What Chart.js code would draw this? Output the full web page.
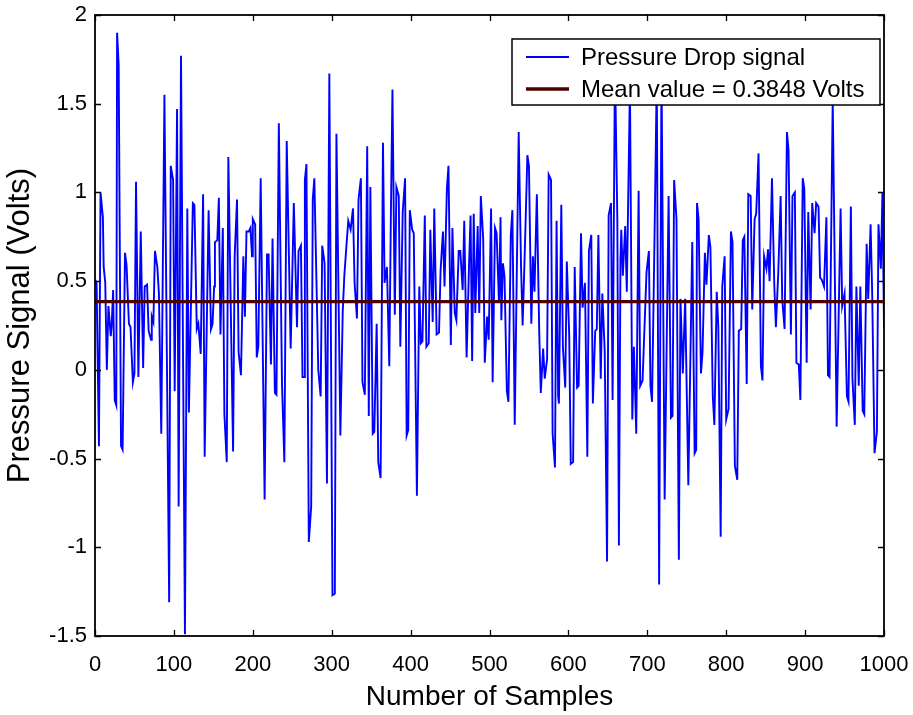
<!DOCTYPE html>
<html>
<head>
<meta charset="utf-8">
<script src="https://cdn.jsdelivr.net/npm/chart.js@4/dist/chart.umd.min.js"></script>
<style>
  html, body { margin: 0; padding: 0; background: #ffffff; }
  #wrap { width: 913px; height: 715px; }
</style>
</head>
<body>
<div id="wrap"><canvas id="c" width="913" height="715"></canvas></div>
<script>
// Sample index of each recorded point
const sampleNo = [
  0, 2, 5, 7, 10, 11, 13, 15, 17, 20, 21, 23, 25, 27, 28, 30, 33, 35, 38, 40,
  43, 45, 48, 50, 52, 55, 58, 61, 63, 66, 68, 71, 72, 74, 76, 79, 81, 84, 88, 94,
  96, 99, 101, 104, 106, 109, 114, 117, 119, 124, 126, 129, 131, 134, 137, 139, 144, 147, 149, 151,
  152, 155, 157, 159, 162, 164, 167, 169, 175, 177, 180, 182, 185, 188, 190, 192, 195, 197, 199, 200,
  203, 205, 207, 210, 215, 218, 220, 223, 225, 228, 230, 233, 237, 240, 243, 248, 252, 256, 258, 261,
  263, 265, 266, 268, 271, 274, 276, 278, 283, 286, 288, 291, 294, 297, 301, 304, 306, 311, 314, 316,
  319, 321, 324, 327, 329, 332, 334, 337, 339, 342, 345, 347, 349, 352, 354, 357, 359, 362, 365, 367,
  370, 373, 375, 377, 380, 382, 385, 387, 390, 393, 395, 397, 399, 402, 404, 408, 411, 413, 415, 418,
  420, 423, 425, 428, 430, 433, 436, 438, 441, 443, 446, 448, 451, 453, 456, 458, 461, 463, 466, 468,
  471, 474, 476, 478, 480, 482, 485, 487, 489, 492, 494, 497, 499, 502, 504, 507, 509, 512, 514, 515,
  517, 519, 522, 524, 527, 529, 532, 537, 540, 542, 545, 548, 550, 553, 555, 557, 560, 563, 565, 568,
  570, 573, 575, 578, 580, 583, 585, 587, 588, 591, 593, 596, 598, 601, 603, 606, 608, 611, 613, 616,
  618, 621, 624, 626, 629, 631, 634, 636, 638, 641, 643, 646, 649, 651, 654, 656, 659, 662, 664, 666,
  667, 669, 672, 674, 678, 681, 683, 686, 689, 691, 694, 699, 702, 704, 706, 709, 712, 715, 718, 722,
  727, 730, 732, 734, 737, 740, 742, 745, 748, 752, 757, 760, 762, 763, 765, 768, 770, 773, 775, 778,
  780, 783, 785, 788, 790, 793, 795, 798, 800, 803, 806, 808, 811, 814, 816, 819, 821, 823, 826, 828,
  831, 833, 836, 838, 841, 844, 846, 848, 851, 853, 855, 858, 861, 863, 866, 869, 871, 874, 877, 879,
  882, 884, 887, 889, 892, 894, 897, 899, 902, 904, 907, 909, 912, 914, 917, 919, 921, 924, 927, 929,
  931, 935, 940, 945, 947, 950, 953, 955, 958, 960, 963, 965, 968, 970, 973, 975, 978, 980, 983, 985,
  988, 991, 993, 996, 998, 1000
];

// Pressure drop signal (Volts) at each sample
const pressureV = [
  0.51, 0.49, -0.43, 1.00, 0.86, 0.58, 0.49, 0.00, 0.36, 0.19, 0.24, 0.45, -0.17, -0.20, 1.90, 1.72, -0.43, -0.45, 0.66, 0.59,
  0.26, 0.24, -0.07, -0.02, 1.06, -0.04, 0.78, 0.01, 0.47, 0.48, 0.22, 0.17, 0.30, 0.27, 0.67, 0.58, 0.43, -0.36, 1.55, -1.31,
  1.15, 1.07, -0.12, 1.47, -0.77, 1.77, -1.49, 0.91, -0.24, 0.94, 0.93, 0.23, 0.26, 0.09, 0.99, -0.49, 0.90, 0.23, 0.26, 0.47,
  0.72, 0.73, 0.97, 0.20, 0.80, -0.25, -0.52, 1.20, -0.46, 0.64, 0.96, 0.10, -0.03, 0.64, 0.30, 0.78, 0.78, 0.80, 0.64, 0.85,
  0.82, 0.07, 0.13, 1.08, -0.73, 0.65, 0.65, 0.03, 0.74, -0.13, -0.14, 1.39, -0.08, -0.52, 1.29, 0.12, 0.94, 0.24, 0.67, 0.70,
  -0.04, -0.04, 1.07, 1.16, -0.97, -0.77, 0.96, 1.08, 0.00, -0.15, 0.70, 0.60, -0.64, 1.67, -1.27, -1.26, 1.33, -0.37, 0.33, 0.53,
  0.72, 0.84, 0.79, 0.91, 0.49, 0.29, 0.96, 1.08, -0.07, -0.14, 1.26, -0.26, 1.03, -0.36, -0.35, 0.26, -0.52, -0.61, 1.28, 0.49,
  0.58, 0.02, 0.87, 1.58, 0.31, 1.03, 0.98, 0.13, 0.89, 1.08, -0.37, -0.34, 0.90, 0.79, 0.77, -0.71, 0.47, 0.15, 0.16, 0.87,
  0.13, 0.15, 0.79, 0.27, 0.91, 0.20, 0.21, 0.56, 0.78, 0.47, 1.02, 1.15, 0.14, 0.80, 0.32, 0.28, 0.67, 0.67, 0.45, 0.84,
  0.07, 0.58, 0.87, 0.05, 0.88, 0.32, 0.81, 0.32, 0.98, 0.74, 0.04, 0.30, 0.17, 0.91, -0.07, 0.80, 0.77, 0.38, 0.86, 0.28,
  0.60, 0.53, -0.12, -0.18, 0.76, 0.90, -0.31, 1.34, 0.58, 0.25, 0.71, 1.21, 1.15, 0.26, 0.64, 0.44, 0.99, 0.22, -0.13, 0.12,
  -0.05, 0.06, 1.10, 1.07, -0.36, -0.55, 0.84, -0.15, -0.19, 0.93, 0.13, -0.10, 0.61, 0.20, -0.53, -0.52, 0.58, -0.10, -0.09, 0.77,
  0.35, 0.49, -0.49, 0.67, 0.76, -0.19, 0.22, 0.23, 0.76, -0.05, 0.43, 0.11, -1.08, 0.87, 0.94, -0.17, 1.72, 0.86, -0.99, 0.62,
  0.79, 0.53, 0.81, 0.44, 1.60, -0.28, 0.13, -0.36, 1.01, -0.09, -0.06, 0.55, 0.67, -0.09, -0.18, 0.70, 1.65, -1.21, 1.70, -0.73,
  0.98, -0.27, -0.26, 1.07, 0.85, -1.07, 0.40, -0.02, 0.40, -0.65, 0.72, -0.47, -0.45, 0.94, 0.85, -0.02, 0.10, 0.66, 0.48, 0.76,
  0.69, -0.15, -0.31, 0.44, 0.24, -0.94, 0.47, 0.64, -0.28, -0.22, 0.78, 0.72, -0.54, -0.62, 0.22, 0.23, 0.73, 0.75, -0.08, 0.99,
  0.98, 0.34, 0.85, 0.88, 1.22, 0.02, -0.06, 0.64, 0.57, 0.68, 0.50, 1.08, 0.47, 0.24, 0.55, 0.98, 0.40, 0.23, 1.34, 1.24,
  0.20, 0.98, 1.00, 0.04, 0.03, -0.17, 1.08, 1.02, 0.04, 0.89, 0.34, 0.94, 0.77, 0.94, 0.92, 0.52, 0.51, 0.47, 0.86, -0.03,
  -0.04, 1.52, -0.32, 0.91, 0.36, 0.43, -0.15, -0.18, 0.92, -0.05, -0.31, 0.47, -0.09, 0.47, -0.23, -0.25, 0.71, 0.40, 0.82, 0.44,
  -0.47, -0.35, 0.82, 0.57, 1.00, 0.24
];

const meanValue = 0.3848;
const xTickValues = [0, 100, 200, 300, 400, 500, 600, 700, 800, 900, 1000];
const yTickValues = [-1.5, -1, -0.5, 0, 0.5, 1, 1.5, 2];
const legendLabels = ['Pressure Drop signal', 'Mean value = 0.3848 Volts'];

const FONT = 'Arial, "Liberation Sans", sans-serif';
const signalColor = '#0000ff';
const meanColor = '#4d0000';

const signalPoints = sampleNo.map((s, i) => ({ x: s, y: pressureV[i] }));
const meanPoints = [{ x: xTickValues[0], y: meanValue }, { x: xTickValues[xTickValues.length - 1], y: meanValue }];

// Keep the plot frame fixed: labels may overhang the padding
function fixScale(size, key) {
  return function (scale) {
    scale[key] = size;
    scale.paddingLeft = 0; scale.paddingRight = 0;
    scale.paddingTop = 0; scale.paddingBottom = 0;
  };
}

// Axes box with inward tick marks on all four sides
const boxPlugin = {
  id: 'axesBox',
  afterDatasetsDraw(chart) {
    const { ctx, chartArea: a, scales } = chart;
    const tl = 6;
    ctx.save();
    ctx.strokeStyle = '#000';
    ctx.lineWidth = 1.3;
    ctx.beginPath();
    xTickValues.forEach(v => {
      const px = Math.round(scales.x.getPixelForValue(v)) + 0.5;
      ctx.moveTo(px, a.bottom); ctx.lineTo(px, a.bottom - tl);
      ctx.moveTo(px, a.top); ctx.lineTo(px, a.top + tl);
    });
    yTickValues.forEach(v => {
      const py = Math.round(scales.y.getPixelForValue(v)) + 0.5;
      ctx.moveTo(a.left, py); ctx.lineTo(a.left + tl, py);
      ctx.moveTo(a.right, py); ctx.lineTo(a.right - tl, py);
    });
    ctx.stroke();
    ctx.lineWidth = 1.8;
    ctx.strokeRect(a.left, a.top, a.right - a.left, a.bottom - a.top);
    ctx.restore();
  }
};

// Legend box drawn inside the plot, upper right
const legendPlugin = {
  id: 'boxLegend',
  afterDraw(chart) {
    const { ctx, chartArea: a } = chart;
    const w = 368, h = 66;
    const x0 = a.right - 4 - w, y0 = a.top + 24;
    ctx.save();
    ctx.fillStyle = '#fff';
    ctx.fillRect(x0, y0, w, h);
    ctx.strokeStyle = '#000';
    ctx.lineWidth = 1.5;
    ctx.strokeRect(x0, y0, w, h);
    const rows = [
      { label: legendLabels[0], color: signalColor, width: 1.9, y: y0 + 18 },
      { label: legendLabels[1], color: meanColor, width: 3.4, y: y0 + 50 }
    ];
    ctx.font = '24px ' + FONT;
    ctx.textBaseline = 'middle';
    rows.forEach(r => {
      ctx.strokeStyle = r.color;
      ctx.lineWidth = r.width;
      ctx.beginPath();
      ctx.moveTo(x0 + 14, r.y);
      ctx.lineTo(x0 + 57, r.y);
      ctx.stroke();
      ctx.fillStyle = '#000';
      ctx.fillText(r.label, x0 + 69, r.y + 1);
    });
    ctx.restore();
  }
};

new Chart(document.getElementById('c'), {
  type: 'line',
  data: {
    datasets: [
      {
        label: legendLabels[0],
        data: signalPoints,
        borderColor: signalColor,
        borderWidth: 1.9,
        pointRadius: 0,
        tension: 0,
        order: 1
      },
      {
        label: legendLabels[1],
        data: meanPoints,
        borderColor: meanColor,
        borderWidth: 3.4,
        pointRadius: 0,
        order: 0
      }
    ]
  },
  options: {
    responsive: false,
    animation: false,
    devicePixelRatio: 1,
    layout: { padding: { top: 15, right: 29, left: 0, bottom: 0 } },
    plugins: { legend: { display: false }, tooltip: { enabled: false } },
    scales: {
      x: {
        type: 'linear',
        min: 0, max: 1000,
        afterBuildTicks(scale) { scale.ticks = xTickValues.map(v => ({ value: v })); },
        afterFit: fixScale(79, 'height'),
        grid: { display: false, drawTicks: false },
        border: { display: false },
        ticks: { color: '#000', font: { family: FONT, size: 22 }, padding: 16, maxRotation: 0, autoSkip: false,
                 callback: v => String(v) },
        title: { display: true, text: 'Number of Samples', color: '#000', font: { family: FONT, size: 28 }, padding: { top: 0, bottom: 1 } }
      },
      y: {
        type: 'linear',
        min: -1.5, max: 2,
        afterBuildTicks(scale) { scale.ticks = yTickValues.map(v => ({ value: v })); },
        afterFit: fixScale(95, 'width'),
        grid: { display: false, drawTicks: false },
        border: { display: false },
        ticks: { color: '#000', font: { family: FONT, size: 22 }, padding: 8, autoSkip: false,
                 callback: v => String(v) },
        title: { display: true, text: 'Pressure Signal (Volts)', color: '#000', font: { family: FONT, size: 31 }, padding: { top: 2, bottom: 4 } }
      }
    }
  },
  plugins: [boxPlugin, legendPlugin]
});
</script>
</body>
</html>
